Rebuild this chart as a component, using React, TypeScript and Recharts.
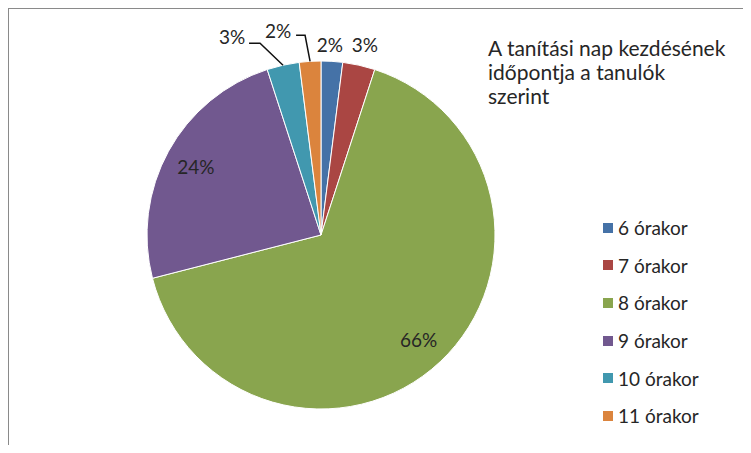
import { PieChart, Pie, Cell, Legend } from 'recharts';

const categories = ['6 órakor', '7 órakor', '8 órakor', '9 órakor', '10 órakor', '11 órakor'];
const shares = [2, 3, 66, 24, 3, 2];
const colors = ['#4572A7', '#AA4643', '#89A54E', '#71588F', '#4198AF', '#DB843D'];
const titleLines = ['A tanítási nap kezdésének', 'időpontja a tanulók', 'szerint'];

const data = categories.map((name, i) => ({ name, value: shares[i] }));

const FONT = 'Lato, "Open Sans", sans-serif';
const RAD = Math.PI / 180;

// where the small slices put their labels, relative to the slice's outer edge
const outside: Record<number, { dx: number; dy: number; line?: [number, number][] }> = {
  0: { dx: -2, dy: -17 },
  1: { dx: 6, dy: -21 },
  4: { dx: -51, dy: -29, line: [[-23, -22], [-34, -22]] },
  5: { dx: -32, dy: -31, line: [[-5, -26], [-14, -26]] },
};

function renderLabel(props: any) {
  const { cx, cy, midAngle, outerRadius, index, value } = props;
  const cos = Math.cos(-midAngle * RAD);
  const sin = Math.sin(-midAngle * RAD);
  const txt = `${value}%`;
  const conf = outside[index];
  if (!conf) {
    const r = outerRadius * 0.82;
    return (
      <text x={cx + r * cos} y={cy + r * sin} textAnchor="middle" dominantBaseline="central"
        fontSize={19} fontFamily={FONT} fill="#262626">{txt}</text>
    );
  }
  const ex = cx + outerRadius * cos;
  const ey = cy + outerRadius * sin;
  return (
    <g>
      {conf.line && (
        <polyline
          points={[[0, 0], ...conf.line].map(([x, y]) => `${ex + x},${ey + y}`).join(' ')}
          fill="none" stroke="#111" strokeWidth={1.5} />
      )}
      <text x={ex + conf.dx} y={ey + conf.dy} textAnchor="middle" dominantBaseline="central"
        fontSize={19} fontFamily={FONT} fill="#262626">{txt}</text>
    </g>
  );
}

// legend keeps the data order (the default one sorts by name)
function renderLegend() {
  return (
    <div>
      {categories.map((name, i) => (
        <div key={name} style={{ display: 'flex', alignItems: 'center', height: 37.6 }}>
          <span style={{ width: 10, height: 10, background: colors[i], marginRight: 5, display: 'inline-block' }} />
          <span style={{ fontSize: 19, fontFamily: FONT, color: '#262626' }}>{name}</span>
        </div>
      ))}
    </div>
  );
}

export default function App() {
  return (
    <div style={{
      position: 'relative', width: 734, height: 436, background: '#fff',
      borderTop: '1px solid #8a8a8a', borderLeft: '1px solid #8a8a8a',
    }}>
      <PieChart width={734} height={436}>
        <Pie
          data={data}
          dataKey="value"
          nameKey="name"
          cx={307}
          cy={221}
          outerRadius={174}
          startAngle={90}
          endAngle={-270}
          stroke="#fff"
          strokeWidth={1}
          label={renderLabel}
          labelLine={false}
          isAnimationActive={false}
        >
          {data.map((d, i) => <Cell key={d.name} fill={colors[i]} />)}
        </Pie>
        <Legend
          layout="vertical"
          content={renderLegend}
          wrapperStyle={{ position: 'absolute', left: 594, top: 200, width: 140 }}
        />
      </PieChart>
      <div style={{
        position: 'absolute', left: 479, top: 27, fontFamily: FONT, fontSize: 21,
        lineHeight: '24px', color: '#262626', whiteSpace: 'nowrap',
      }}>
        {titleLines.map(t => <div key={t}>{t}</div>)}
      </div>
    </div>
  );
}
